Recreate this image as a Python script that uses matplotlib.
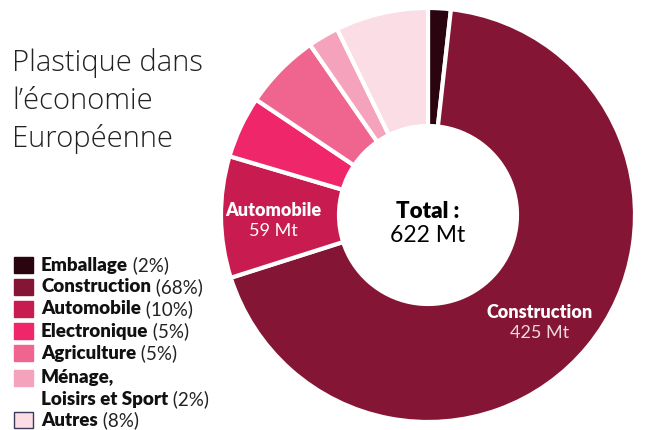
import matplotlib.pyplot as plt
from matplotlib.patches import Rectangle

# Plastique par secteur (Mt)
secteurs = ['Emballage', 'Construction', 'Automobile', 'Electronique',
            'Agriculture', 'Ménage,\nLoisirs et Sport', 'Autres']
valeurs = [11, 425, 59, 30, 37, 15, 45]
parts = ['(2%)', '(68%)', '(10%)', '(5%)', '(5%)', '(2%)', '(8%)']
couleurs = ['#2a0510', '#851535', '#c81c50', '#f0266a',
            '#f06590', '#f5a3bd', '#fadde5']

plt.rcParams['font.family'] = ['Lato', 'DejaVu Sans']

fig = plt.figure(figsize=(6.45, 4.30), dpi=100)
ax = fig.add_axes([0, 0, 1, 1])

# donut
ax.pie(valeurs, colors=couleurs, startangle=90, counterclock=False,
       center=(428, 215), radius=207,
       wedgeprops=dict(width=118, edgecolor='white', linewidth=3))
ax.set_xlim(0, 645)
ax.set_ylim(0, 430)
ax.set_aspect('equal')
ax.axis('off')

# textes au centre et sur les parts
ax.text(428, 219, 'Total :', ha='center', va='center', fontsize=16,
        fontweight='heavy', color='black')
ax.text(428, 194, f'{sum(valeurs)} Mt', ha='center', va='center',
        fontsize=16.5, color='black')
ax.text(273, 219, secteurs[2], ha='center', va='center', fontsize=13,
        fontweight='heavy', color='white')
ax.text(273, 199, f'{valeurs[2]} Mt', ha='center', va='center',
        fontsize=13, color='white')
ax.text(540, 117, secteurs[1], ha='center', va='center', fontsize=13,
        fontweight='heavy', color='white')
ax.text(540, 97, f'{valeurs[1]} Mt', ha='center', va='center',
        fontsize=13, color='#f0d8e0')

# titre
ax.text(12, 329, 'Plastique dans\nl\u2019économie\nEuropéenne', ha='left',
        va='center', fontsize=21, family=['Open Sans', 'Lato'],
        fontweight='light', color='#222222', linespacing=1.36)

# légende
y_rangs = [165, 143, 121, 99, 77, 52, 10]
for nom, part, c, y in zip(secteurs, parts, couleurs, y_rangs):
    bord = '#3a3a5a' if nom == 'Autres' else c
    ax.add_patch(Rectangle((14, y - 8), 19, 16, facecolor=c, edgecolor=bord,
                           linewidth=1))
    if '\n' in nom:
        haut, bas = nom.split('\n')
        ax.text(41, y, haut, ha='left', va='center', fontsize=13.5,
                fontweight='heavy', color='#111111')
        t = ax.text(41, y - 21, bas, ha='left', va='center', fontsize=13.5,
                    fontweight='heavy', color='#111111')
    else:
        t = ax.text(41, y, nom, ha='left', va='center', fontsize=13.5,
                    fontweight='heavy', color='#111111')
    ax.annotate(' ' + part, xy=(1, 0.5), xycoords=t, ha='left', va='center',
                fontsize=13.5, color='#222222')

fig.savefig('out.png', dpi=100)
